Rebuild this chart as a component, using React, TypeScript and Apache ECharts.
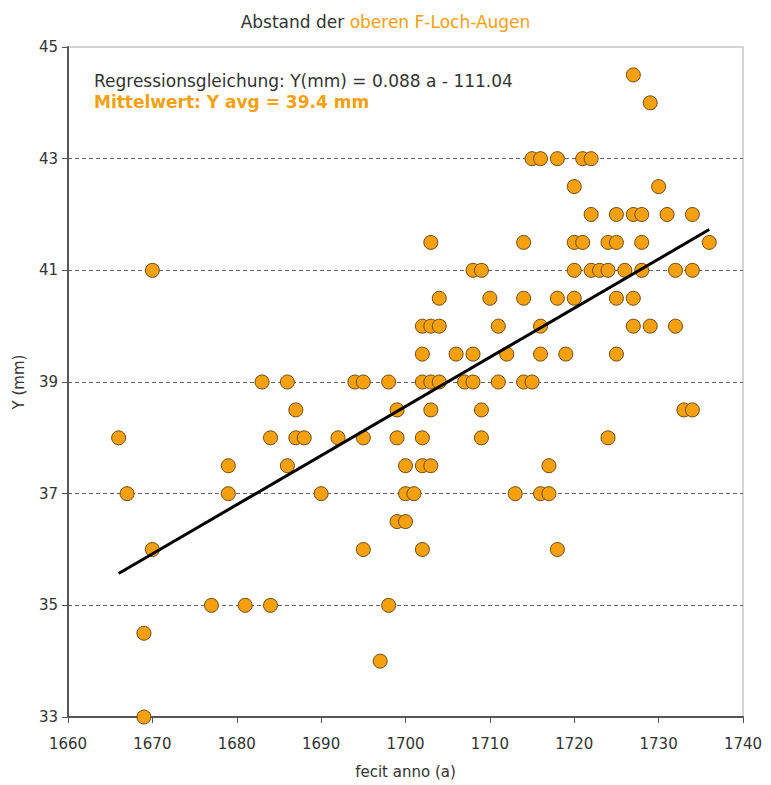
import React, { useEffect, useRef } from "react";
import * as echarts from "echarts";

const years: number[] = [
  1666, 1667, 1670, 1670, 1669, 1669, 1677, 1679, 1679, 1681,
  1683, 1684, 1684, 1686, 1686, 1687, 1687, 1688, 1690, 1692,
  1694, 1695, 1695, 1695, 1697, 1698, 1698, 1699, 1699, 1699,
  1700, 1700, 1700, 1701, 1702, 1702, 1702, 1702, 1702, 1702,
  1703, 1703, 1703, 1703, 1703, 1704, 1704, 1704, 1706, 1707,
  1708, 1708, 1708, 1709, 1709, 1709, 1710, 1711, 1711, 1712,
  1713, 1714, 1714, 1714, 1715, 1715, 1716, 1716, 1716, 1716,
  1717, 1717, 1718, 1718, 1718, 1719, 1720, 1720, 1720, 1720,
  1721, 1721, 1722, 1722, 1722, 1723, 1724, 1724, 1724, 1725,
  1725, 1725, 1725, 1726, 1727, 1727, 1727, 1727, 1728, 1728,
  1728, 1729, 1729, 1730, 1731, 1732, 1732, 1733, 1734, 1734,
  1734, 1736,
];

const distances: number[] = [
  38, 37, 41, 36, 34.5, 33, 35, 37.5, 37, 35,
  39, 38, 35, 39, 37.5, 38.5, 38, 38, 37, 38,
  39, 39, 38, 36, 34, 35, 39, 38.5, 38, 36.5,
  36.5, 37.5, 37, 37, 38, 37.5, 36, 39, 39.5, 40,
  40, 39, 38.5, 37.5, 41.5, 40, 40.5, 39, 39.5, 39,
  41, 39.5, 39, 41, 38.5, 38, 40.5, 40, 39, 39.5,
  37, 41.5, 40.5, 39, 43, 39, 43, 40, 39.5, 37,
  37.5, 37, 43, 40.5, 36, 39.5, 42.5, 41.5, 41, 40.5,
  43, 41.5, 43, 42, 41, 41, 41.5, 41, 38, 42,
  41.5, 40.5, 39.5, 41, 44.5, 42, 40.5, 40, 42, 41.5,
  41, 44, 40, 42.5, 42, 41, 40, 38.5, 38.5, 42,
  41, 41.5,
];

// regression line end points (Y(mm) = 0.088 a - 111.04)
const trendYears: number[] = [1666, 1736];
const trendValues: number[] = [35.57, 41.73];

// dashed horizontal gridlines
const gridValues: number[] = [35, 37, 39, 41, 43];

const xTicks = { min: 1660, max: 1740, interval: 10 };
const yTicks = { min: 33, max: 45, interval: 2 };

const FONT = "DejaVu Sans, Verdana, sans-serif";
const ORANGE = "#f5a00f";

export default function App() {
  const ref = useRef<HTMLDivElement>(null);
  useEffect(() => {
    if (!ref.current) return;
    const chart = echarts.init(ref.current, undefined, { renderer: "svg" });
    const points = years.map((y, i) => [y, distances[i]]);
    const trend = trendYears.map((y, i) => [y, trendValues[i]]);
    chart.setOption({
      animation: false,
      backgroundColor: "#ffffff",
      textStyle: { fontFamily: FONT },
      title: {
        left: "center",
        top: 8,
        text: "{a|Abstand der }{b|oberen F-Loch-Augen}",
        textStyle: {
          fontWeight: "normal",
          rich: {
            a: { fontFamily: FONT, fontSize: 17, color: "#333333", fontWeight: "normal" },
            b: { fontFamily: FONT, fontSize: 17, color: ORANGE, fontWeight: "normal" },
          },
        },
      },
      grid: {
        left: 68,
        right: 28,
        top: 47,
        bottom: 68,
        show: true,
        borderColor: "#aaaaaa",
        borderWidth: 1,
        backgroundColor: "transparent",
      },
      graphic: [
        {
          type: "text",
          left: 94,
          top: 72,
          style: {
            text: "Regressionsgleichung: Y(mm) = 0.088 a - 111.04",
            fontFamily: FONT,
            fontSize: 17,
            fill: "#333333",
          },
        },
        {
          type: "text",
          left: 94,
          top: 93,
          style: {
            text: "Mittelwert: Y avg = 39.4 mm",
            fontFamily: FONT,
            fontSize: 17,
            fontWeight: "bold",
            fill: ORANGE,
          },
        },
      ],
      xAxis: {
        type: "value",
        min: xTicks.min,
        max: xTicks.max,
        interval: xTicks.interval,
        name: "fecit anno (a)",
        nameLocation: "middle",
        nameGap: 47,
        nameTextStyle: { fontFamily: FONT, fontSize: 15, color: "#333333" },
        axisLine: { lineStyle: { color: "#555555", width: 2 } },
        axisTick: { show: true, length: 6, lineStyle: { color: "#555555" } },
        axisLabel: {
          fontFamily: FONT,
          fontSize: 15,
          color: "#333333",
          margin: 19,
          formatter: (v: number) => String(v),
        },
        splitLine: { show: false },
      },
      yAxis: {
        type: "value",
        min: yTicks.min,
        max: yTicks.max,
        interval: yTicks.interval,
        name: "Y (mm)",
        nameLocation: "middle",
        nameGap: 42,
        nameRotate: 90,
        nameTextStyle: { fontFamily: FONT, fontSize: 15, color: "#333333" },
        axisLine: { show: true, lineStyle: { color: "#555555", width: 2 } },
        axisTick: { show: true, length: 6, lineStyle: { color: "#555555" } },
        axisLabel: {
          fontFamily: FONT,
          fontSize: 15,
          color: "#333333",
          margin: 10,
        },
        splitLine: { show: false },
      },
      series: [
        {
          type: "scatter",
          data: points,
          symbol: "circle",
          symbolSize: 14,
          itemStyle: {
            color: ORANGE,
            borderColor: "#6b4a16",
            borderWidth: 1,
            opacity: 1,
          },
          z: 2,
          markLine: {
            silent: true,
            symbol: "none",
            label: { show: false },
            lineStyle: { color: "#666666", type: [4, 3], width: 1 },
            data: gridValues.map((v) => ({ yAxis: v })),
            z: 1,
          },
        },
        {
          type: "line",
          data: trend,
          showSymbol: false,
          symbol: "none",
          lineStyle: { color: "#000000", width: 3 },
          z: 3,
        },
      ],
    });
    return () => chart.dispose();
  }, []);
  return (
    <div
      ref={ref}
      style={{ position: "fixed", left: 0, top: 0, width: 771, height: 785 }}
    />
  );
}
